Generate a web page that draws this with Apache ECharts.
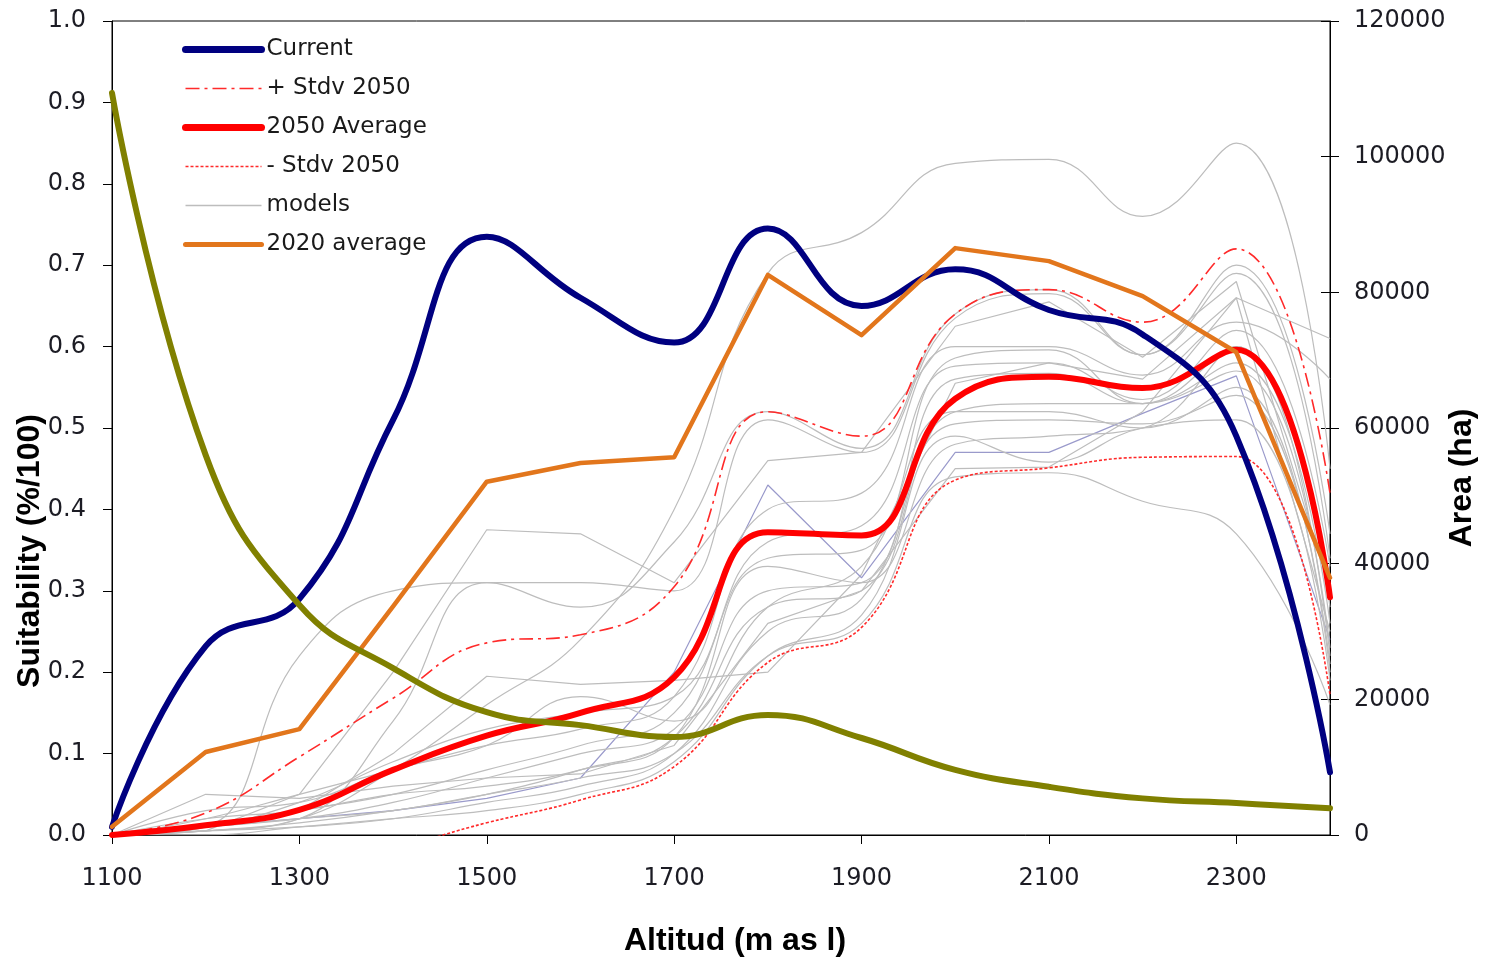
<!DOCTYPE html>
<html>
<head>
<meta charset="utf-8">
<script src="https://cdn.jsdelivr.net/npm/echarts@6/dist/echarts.min.js"></script>
<style>
html,body{margin:0;padding:0;background:#fff;}
#chart{width:1489px;height:958px;}
</style>
</head>
<body>
<div id="chart"></div>
<script>
// ---- data ----
var altitudes = [1100,1200,1300,1400,1500,1600,1700,1800,1900,2000,2100,2200,2300,2400];
var xTickValues = [1100,1300,1500,1700,1900,2100,2300];

var current      = [0.01,0.232,0.29,0.51,0.735,0.66,0.605,0.745,0.65,0.695,0.645,0.615,0.49,0.077];
var stdvPlus2050 = [0.0,0.027,0.096,0.168,0.236,0.246,0.305,0.52,0.49,0.64,0.67,0.63,0.72,0.42];
var avg2050      = [0.0,0.012,0.031,0.08,0.122,0.15,0.194,0.372,0.368,0.536,0.563,0.549,0.596,0.292];
var stdvMinus2050= [0.0,-0.01,-0.03,-0.015,0.015,0.043,0.084,0.212,0.255,0.436,0.451,0.464,0.465,0.172];
var avg2020      = [0.01,0.102,0.13,0.281,0.434,0.457,0.464,0.688,0.614,0.721,0.705,0.662,0.593,0.316];
var areaHa       = [109400,56000,33900,24600,18100,16200,14450,17700,14300,9600,7100,5400,4700,3950];

var modelA = [0,0.005,0.02,0.08,0.16,0.24,0.40,0.69,0.74,0.825,0.83,0.76,0.85,0.45];
var modelB = [0,0.01,0.22,0.30,0.31,0.31,0.30,0.51,0.47,0.635,0.665,0.59,0.69,0.34];
var modelC = [0,0.005,0.05,0.20,0.375,0.37,0.31,0.46,0.47,0.625,0.655,0.587,0.68,0.30];
var modelD = [0,0.005,0.02,0.14,0.31,0.28,0.36,0.52,0.475,0.64,0.67,0.59,0.70,0.37];
var modelE = [0,0.01,0.03,0.10,0.195,0.185,0.19,0.20,0.32,0.555,0.58,0.56,0.66,0.61];
var modelF = [0,0.01,0.02,0.03,0.045,0.07,0.20,0.43,0.316,0.47,0.47,0.518,0.564,0.24];
var modelG = [0,0.02,0.05,0.08,0.11,0.13,0.17,0.40,0.42,0.60,0.60,0.565,0.63,0.56];
var modelH = [0,0.01,0.03,0.05,0.08,0.11,0.15,0.34,0.35,0.586,0.596,0.53,0.60,0.28];
var modelI = [0,0.01,0.02,0.04,0.07,0.10,0.13,0.30,0.31,0.56,0.567,0.53,0.58,0.26];
var modelJ = [0,0.005,0.015,0.03,0.05,0.08,0.12,0.28,0.30,0.52,0.53,0.53,0.57,0.23];
var modelK = [0,0.005,0.01,0.02,0.04,0.06,0.10,0.25,0.29,0.505,0.51,0.505,0.54,0.21];
var modelL = [0,0,0.01,0.02,0.03,0.05,0.09,0.22,0.27,0.49,0.458,0.50,0.51,0.19];
var modelM = [0,0.01,0.02,0.03,0.05,0.07,0.10,0.22,0.26,0.44,0.445,0.41,0.37,0.16];
var modelN = [0,0.01,0.04,0.09,0.13,0.15,0.17,0.36,0.38,0.576,0.58,0.535,0.62,0.33];
var modelO = [0,0.03,0.04,0.08,0.11,0.17,0.14,0.28,0.33,0.52,0.52,0.50,0.55,0.20];
var modelP = [0,0.05,0.045,0.06,0.07,0.075,0.11,0.26,0.30,0.45,0.452,0.52,0.66,0.25];
var modelQ = [0,0.02,0.03,0.05,0.06,0.08,0.12,0.33,0.31,0.48,0.49,0.50,0.60,0.22];

// ---- build ----
function pairs(vals){ return altitudes.map(function(x,i){ return [x, vals[i]]; }); }

var models = [
  {d:modelA,s:true},{d:modelB,s:true},{d:modelC,s:false},{d:modelD,s:true},
  {d:modelE,s:false},{d:modelF,s:false,purple:true},{d:modelG,s:true},{d:modelH,s:true},
  {d:modelI,s:true},{d:modelJ,s:true},{d:modelK,s:true},{d:modelL,s:true},
  {d:modelM,s:true},{d:modelN,s:true},{d:modelO,s:true},{d:modelP,s:false},{d:modelQ,s:true}
];

var series = [];
models.forEach(function(m){
  series.push({
    name:'models', type:'line', yAxisIndex:0, data:pairs(m.d), symbol:'none', showSymbol:false,
    smooth: m.s ? 0.45 : false, z:1,
    lineStyle:{color: m.purple ? '#9a9acb' : '#bdbdbd', width:1.2},
    itemStyle:{color: m.purple ? '#9a9acb' : '#bdbdbd'}
  });
});
series.push({name:'+ Stdv 2050', type:'line', data:pairs(stdvPlus2050), symbol:'none', showSymbol:false, smooth:0.45, z:2,
  lineStyle:{color:'#ff2a2a', width:1.6, type:[14,5,3,5]}, itemStyle:{color:'#ff2a2a'}});
series.push({name:'- Stdv 2050', type:'line', data:pairs(stdvMinus2050), symbol:'none', showSymbol:false, smooth:0.45, z:2,
  lineStyle:{color:'#ff2a2a', width:1.6, type:[3,2]}, itemStyle:{color:'#ff2a2a'}});
series.push({name:'2050 Average', type:'line', data:pairs(avg2050), symbol:'none', showSymbol:false, smooth:0.45, z:3,
  lineStyle:{color:'#ff0000', width:6, cap:'round', join:'round'}, itemStyle:{color:'#ff0000'}});
series.push({name:'Current', type:'line', data:pairs(current), symbol:'none', showSymbol:false, smooth:0.45, z:4,
  lineStyle:{color:'#000080', width:6, cap:'round', join:'round'}, itemStyle:{color:'#000080'}});
series.push({name:'2020 average', type:'line', data:pairs(avg2020), symbol:'none', showSymbol:false, smooth:false, z:5,
  lineStyle:{color:'#e2761c', width:4.5, cap:'round', join:'round'}, itemStyle:{color:'#e2761c'}});
series.push({name:'Area', type:'line', yAxisIndex:1, data:pairs(areaHa), symbol:'none', showSymbol:false, smooth:0.45, z:6,
  lineStyle:{color:'#808000', width:6, cap:'round', join:'round'}, itemStyle:{color:'#808000'}});

var tickFont = {fontFamily:'DejaVu Sans', fontSize:24, color:'#1c1c24'};
function plain(v){ return String(v); }

var legendItems = [
  {name:'Current', lineStyle:{width:7, color:'#000080', cap:'round'}},
  {name:'+ Stdv 2050', lineStyle:{width:1.6, color:'#ff2a2a', type:[14,5,3,5]}},
  {name:'2050 Average', lineStyle:{width:7, color:'#ff0000', cap:'round'}},
  {name:'- Stdv 2050', lineStyle:{width:1.6, color:'#ff2a2a', type:[3,2]}},
  {name:'models', lineStyle:{width:1.5, color:'#bdbdbd'}},
  {name:'2020 average', lineStyle:{width:5, color:'#e2761c', cap:'round'}}
];

var option = {
  animation:false,
  backgroundColor:'#ffffff',
  grid:{left:112, right:159, top:21, bottom:123, show:true, borderColor:'#000', borderWidth:1, backgroundColor:'transparent'},
  legend:{
    data:legendItems,
    orient:'vertical', left:182, top:38, padding:0, itemWidth:76, itemHeight:23, itemGap:16,
    selectedMode:false,
    itemStyle:{opacity:0},
    textStyle:{fontFamily:'DejaVu Sans', fontSize:23, color:'#1a1a1a', lineHeight:23}
  },
  xAxis:{
    type:'value', min:1100, max:2400,
    axisLine:{show:true, lineStyle:{color:'#000', width:1}},
    axisTick:{show:true, length:9, customValues:xTickValues, lineStyle:{color:'#000'}},
    axisLabel:Object.assign({margin:32, customValues:xTickValues, formatter:plain}, tickFont),
    splitLine:{show:false}
  },
  yAxis:[
    {type:'value', min:0, max:1, interval:0.1, position:'left',
     axisLine:{show:true, lineStyle:{color:'#000', width:1}},
     axisTick:{show:true, length:9, lineStyle:{color:'#000'}},
     axisLabel:Object.assign({margin:26, formatter:function(v){return v.toFixed(1);}}, tickFont),
     splitLine:{show:false}},
    {type:'value', min:0, max:120000, interval:20000, position:'right',
     axisLine:{show:true, lineStyle:{color:'#000', width:1}},
     axisTick:{show:true, length:9, lineStyle:{color:'#000'}},
     axisLabel:Object.assign({margin:24, formatter:plain}, tickFont),
     splitLine:{show:false}},
    {type:'value', min:0, max:120000, interval:20000, position:'right',
     axisLine:{show:false},
     axisTick:{show:true, inside:true, length:9, lineStyle:{color:'#000'}},
     axisLabel:{show:false},
     splitLine:{show:false}}
  ],
  graphic:[
    {type:'text', x:30, y:551, rotation:Math.PI/2,
     style:{text:'Suitability (%/100)', fontFamily:'Liberation Sans', fontWeight:'bold', fontSize:32, fill:'#000', align:'center', verticalAlign:'middle'}},
    {type:'text', x:1462, y:478, rotation:Math.PI/2,
     style:{text:'Area (ha)', fontFamily:'Liberation Sans', fontWeight:'bold', fontSize:32, fill:'#000', align:'center', verticalAlign:'middle'}},
    {type:'text', x:735, y:941,
     style:{text:'Altitud (m as l)', fontFamily:'Liberation Sans', fontWeight:'bold', fontSize:32, fill:'#000', align:'center', verticalAlign:'middle'}}
  ],
  series:series
};

var chart = echarts.init(document.getElementById('chart'), null, {renderer:'canvas'});
chart.setOption(option);
</script>
</body>
</html>
